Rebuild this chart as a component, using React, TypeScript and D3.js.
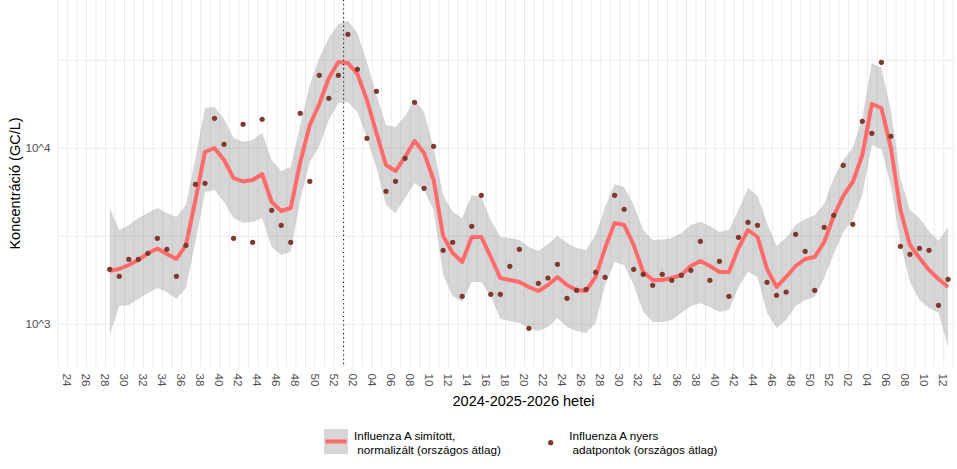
import React from 'react';
import * as d3 from 'd3';

// heti kategóriák: 2024 W28 .. 2026 W12 (89 hét)
const firstWeekIndex = 5; // 2024 W23 = 0 a tengelyen
const lastAxisIndex = 94; // 2026 W13

const tickLabels = [
  '24', '26', '28', '30', '32', '34', '36', '38', '40', '42', '44', '46', '48', '50', '52',
  '02', '04', '06', '08', '10', '12', '14', '16', '18', '20', '22', '24', '26', '28', '30',
  '32', '34', '36', '38', '40', '42', '44', '46', '48', '50', '52',
  '02', '04', '06', '08', '10', '12',
];

// simított, normalizált görbe (GC/L)
const smooth = [
  2016, 2062, 2172, 2319, 2532, 2696, 2508, 2350, 2822, 5083, 9530, 10040, 8580, 6780, 6478,
  6605, 7145, 4953, 4402, 4580, 8360, 13570, 17850, 25080, 30930,
  30530, 26430, 18810, 12220, 8040, 7430, 8925, 11000, 9404, 6605, 3175, 2542, 2259, 3133,
  3133, 2412, 1833, 1785, 1740, 1629, 1546, 1672, 1857, 1672, 1566, 1546, 1857, 2713, 3763,
  3665, 2822, 1982, 1785, 1785, 1833, 1906, 2144, 2289, 2144, 1982, 1982, 2713, 3434, 3133,
  2062, 1629, 1857, 2144, 2350, 2412, 2935, 4124,
  5358, 6435, 9160, 17850, 16940, 10040, 4461, 2822, 2381, 2035, 1809, 1629,
];

const lower = [
  869, 1271, 1287, 1392, 1506, 1608, 1526, 1392, 1608, 2935, 5645, 5795, 4953, 4018, 3778,
  3813, 4018, 2750, 2475, 2585, 5083, 8360, 10300, 14480, 18090,
  18330, 16080, 11440, 7730, 4762, 4290, 5219, 6350, 5795, 4461, 1906, 1448, 1339, 1740,
  1740, 1448, 1072, 1044, 1017, 953, 916, 965, 1086, 965, 916, 893, 1017, 1672, 2259,
  2172, 1672, 1175, 1030, 1030, 1058, 1159, 1271, 1316, 1254, 1175, 1206, 1629, 1990, 1857,
  1159, 953, 1058, 1271, 1374, 1429, 1833, 2508,
  3345, 3914, 5428, 10440, 9910, 6106, 2897, 1740, 1374, 1238, 1159, 743,
];

const upper = [
  4560, 3434, 3665, 4018, 4290, 4580, 4290, 4070, 4762, 8810, 16940, 17160, 14680, 11440, 10900,
  11150, 12220, 8580, 7430, 7830, 13570, 22880, 32600, 42330, 50830,
  52870, 45200, 30930, 20090, 13570, 13210, 15260, 18810, 16080, 10040, 5428, 4346, 4018, 5428,
  5287, 3914, 3133, 3093, 3013, 2750, 2609, 2859, 3175, 2897, 2713, 2643, 3217, 4640, 6268,
  6026, 4762, 3434, 3013, 3033, 3093, 3302, 3665, 3827, 3617, 3345, 3434, 4461, 5949, 5358,
  3763, 2785, 3093, 3665, 3965, 4178, 4825, 6780,
  8580, 10040, 14870, 30530, 28590, 16500, 6780, 4461, 4018, 3389, 2974, 3571,
];

// nyers adatpontok (országos átlag)
const raw = [
  2054, 1874, 2341, 2341, 2532, 3081, 2668, 1874, 2810, 6243, 6325, 14810, 10530, 3081, 13690,
  2924, 14620, 4443, 3651, 2924, 15800, 6494, 25990, 19240, 25990,
  44430, 28100, 11400, 21080, 5697, 6494, 8774, 18260, 5925, 10260, 2633, 2924, 1442, 3604,
  5407, 1481, 1481, 2135, 2668, 949, 1710, 1833, 2192, 1405, 1560, 1580, 1974, 1849, 5407,
  4502, 2054, 1924, 1666, 1924, 1778, 1898, 2027, 2962, 1778, 2280, 1442, 3121, 3797, 3651,
  1732, 1462, 1526, 3246, 2599, 1560, 3557, 4162,
  8008, 3699, 14240, 12170, 30810, 11700, 2775, 2498, 2703, 2633, 1282, 1802,
];

const yBreaks = [1000, 10000];
const yMinor = [Math.pow(10, 3.5), Math.pow(10, 4.5)];
const yearBoundaryIndex = 30; // 2025 W01

const W = 957;
const H = 469;
const panel = { left: 57.8, right: 953.3, top: 0, bottom: 367 };
const font = '"Liberation Sans", Arial, sans-serif';
const lineColor = '#FF6A6A';
const pointColor = '#80392D';

const App = () => {
  const x = d3.scaleLinear().domain([0, lastAxisIndex]).range([panel.left, panel.right]);
  const y = d3.scaleLog().domain([1000, 10000]).range([324.3, 148.3]);
  const px = (i: number) => x(i + firstWeekIndex + 0.45);

  const area = d3.area<number>()
    .x((_, i) => px(i))
    .y0((_, i) => y(lower[i]))
    .y1((_, i) => y(upper[i]));

  const line = d3.line<number>()
    .x((_, i) => px(i))
    .y((d) => y(d));

  const gridX = d3.range(0, lastAxisIndex + 1);

  return (
    <svg width={W} height={H} style={{ position: 'absolute', left: 0, top: 0, background: '#fff' }}
      fontFamily={font}>
      <rect width={W} height={H} fill="#fff" />
      {/* grid */}
      {gridX.map((i) => (
        <line key={'gx' + i} x1={x(i)} x2={x(i)} y1={panel.top} y2={panel.bottom}
          stroke="#EBEBEB" strokeWidth={1} />
      ))}
      {[...yMinor, ...yBreaks].map((v) => (
        <line key={'gy' + v} x1={panel.left} x2={panel.right} y1={y(v)} y2={y(v)}
          stroke="#EBEBEB" strokeWidth={1} />
      ))}

      {/* ribbon, line, points */}
      <path d={area(smooth) || ''} fill="#999999" fillOpacity={0.4} />
      <path d={line(smooth) || ''} fill="none" stroke={lineColor} strokeWidth={4}
        strokeLinejoin="round" />
      {raw.map((v, i) => (
        <circle key={'p' + i} cx={px(i)} cy={y(v)} r={2.6} fill={pointColor} />
      ))}

      {/* year boundary */}
      <line x1={x(yearBoundaryIndex)} x2={x(yearBoundaryIndex)} y1={panel.top} y2={panel.bottom}
        stroke="#000" strokeWidth={1.07} strokeDasharray="1.07 3.2" />

      {/* y axis */}
      {yBreaks.map((v) => (
        <text key={'yt' + v} x={50.5} y={y(v)} dy="0.35em" textAnchor="end" fontSize={11.7}
          fill="#4D4D4D">{'10^' + Math.round(Math.log10(v))}</text>
      ))}
      <text transform={`translate(19.5,${(panel.top + panel.bottom) / 2}) rotate(-90)`}
        textAnchor="middle" fontSize={14.5} fill="#000">Koncentráció (GC/L)</text>

      {/* x axis */}
      {tickLabels.map((t, j) => {
        const xi = x(1 + j * 2);
        return (
          <text key={'xt' + j} transform={`translate(${xi},373.5) rotate(90)`} textAnchor="start"
            dominantBaseline="central" fontSize={11.7} fill="#4D4D4D">{t}</text>
        );
      })}
      <text x={523.5} y={406} textAnchor="middle" fontSize={14.5} fill="#000">2024-2025-2026 hetei</text>

      {/* legend */}
      <g>
        <rect x={324} y={429} width={24} height={25} fill="#999999" fillOpacity={0.4} />
        <line x1={325.5} x2={346.5} y1={441.5} y2={441.5} stroke={lineColor} strokeWidth={4} />
        <text x={354} y={440} fontSize={11.7} fill="#000" style={{ whiteSpace: 'pre' }}>Influenza A simított,</text>
        <text x={354} y={454} fontSize={11.7} fill="#000" style={{ whiteSpace: 'pre' }}> normalizált (országos átlag)</text>
        <circle cx={550.7} cy={442.7} r={2.6} fill={pointColor} />
        <text x={569.3} y={440} fontSize={11.7} fill="#000" style={{ whiteSpace: 'pre' }}>Influenza A nyers</text>
        <text x={569.3} y={454} fontSize={11.7} fill="#000" style={{ whiteSpace: 'pre' }}> adatpontok (országos átlag)</text>
      </g>
    </svg>
  );
};

export default App;
